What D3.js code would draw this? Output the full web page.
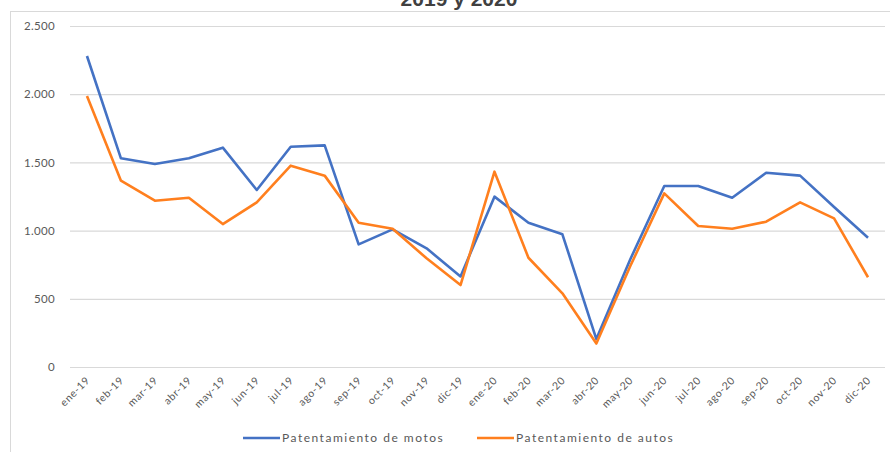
<!DOCTYPE html>
<html>
<head>
<meta charset="utf-8">
<script src="https://cdn.jsdelivr.net/npm/d3@7"></script>
<style>
  body { margin: 0; background: #fff; }
  text { font-family: Lato, "Open Sans", sans-serif; }
</style>
</head>
<body>
<svg width="890" height="452"></svg>
<script>
// data
var months = ['ene-19','feb-19','mar-19','abr-19','may-19','jun-19','jul-19','ago-19','sep-19','oct-19','nov-19','dic-19',
              'ene-20','feb-20','mar-20','abr-20','may-20','jun-20','jul-20','ago-20','sep-20','oct-20','nov-20','dic-20'];
var motos = [2280, 1530, 1488, 1530, 1608, 1298, 1615, 1625, 899, 1009, 870, 664,
             1249, 1058, 973, 205, 790, 1327, 1327, 1241, 1424, 1403, 1173, 948];
var autos = [1987, 1366, 1219, 1241, 1048, 1207, 1476, 1403, 1058, 1014, 797, 601,
             1432, 801, 540, 172, 740, 1273, 1034, 1014, 1065, 1207, 1090, 658];
var yTicks = [0, 500, 1000, 1500, 2000, 2500];
var seriesNames = ['Patentamiento de motos', 'Patentamiento de autos'];
var colors = ['#4472C4', '#FF7F1E'];

var margin = {top: 26, right: 5, bottom: 85, left: 70};
var width = 890, height = 452;

var svg = d3.select('svg');

// chart frame
svg.append('rect')
    .attr('x', 10.5).attr('y', 11.5)
    .attr('width', 900).attr('height', 460)
    .attr('fill', 'none').attr('stroke', '#d9d9d9');

// title (second line, cut at top as in the source)
svg.append('text')
    .attr('x', 459).attr('y', 6)
    .attr('text-anchor', 'middle')
    .attr('font-size', 21).attr('font-weight', 'bold')
    .attr('fill', '#404040')
    .style('font-family', '"Liberation Sans", Arial, sans-serif')
    .text('2019 y 2020');

// scales
var xScale = d3.scalePoint()
    .domain(months)
    .range([margin.left, width - margin.right])
    .padding(0.5);
var yScale = d3.scaleLinear()
    .domain([0, 2500])
    .range([367, margin.top]);

// gridlines + y labels
var yAxis = d3.axisLeft(yScale)
    .tickValues(yTicks)
    .tickSize(-(width - margin.right - margin.left))
    .tickPadding(15)
    .tickFormat(function(d){ return d3.format(',')(d).replace(',', '.'); });
var gy = svg.append('g')
    .attr('transform', 'translate(' + [margin.left, 0] + ')')
    .call(yAxis);
gy.select('.domain').remove();
gy.selectAll('line').attr('stroke', '#d9d9d9').attr('stroke-width', 1.2);
gy.selectAll('text').attr('fill', '#595959').attr('font-size', 11.5).attr('letter-spacing', 0.3);

// x labels
var xAxis = d3.axisBottom(xScale).tickSize(0).tickPadding(0);
var gx = svg.append('g')
    .attr('transform', 'translate(' + [0, 367] + ')')
    .call(xAxis);
gx.select('.domain').remove();
gx.selectAll('text')
    .attr('fill', '#595959')
    .attr('font-size', 10.5)
    .attr('letter-spacing', 0.6)
    .attr('text-anchor', 'end')
    .attr('dy', 0)
    .attr('transform', 'translate(3,14) rotate(-45)');

// lines
var line = d3.line()
    .x(function(d, i){ return xScale(months[i]); })
    .y(function(d){ return yScale(d); });

[motos, autos].forEach(function(s, k){
  svg.append('path')
      .datum(s)
      .attr('d', line)
      .attr('fill', 'none')
      .attr('stroke', colors[k])
      .attr('stroke-width', 2.6)
      .attr('stroke-linejoin', 'round');
});

// legend
var legendX = [243, 477];
seriesNames.forEach(function(name, k){
  var g = svg.append('g').attr('transform', 'translate(' + [legendX[k], 438] + ')');
  g.append('line')
      .attr('x1', 0).attr('x2', 37)
      .attr('stroke', colors[k]).attr('stroke-width', 2.6);
  g.append('text')
      .attr('x', 39).attr('y', 4)
      .attr('font-size', 12)
      .attr('letter-spacing', 1.5)
      .attr('fill', '#595959')
      .text(name);
});
</script>
</body>
</html>
